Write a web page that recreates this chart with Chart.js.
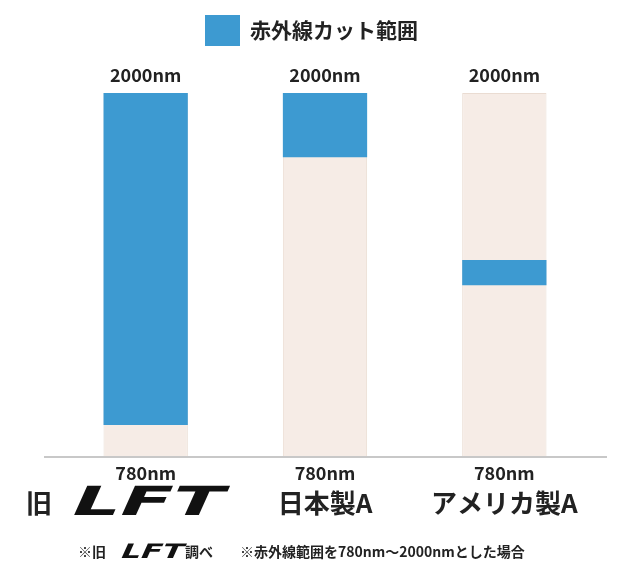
<!DOCTYPE html>
<html><head><meta charset="utf-8">
<script src="https://cdn.jsdelivr.net/npm/chart.js@4"></script>
<style>html,body{margin:0;background:#fff}#w{width:640px;height:576px}</style>
</head><body><div id="w"><canvas id="c"></canvas></div>
<script>
const categories = ["旧LFT", "日本製A", "アメリカ製A"];
const fullRange = [[780, 2000], [780, 2000], [780, 2000]];
const cutRange = [[887, 2000], [1785, 2000], [1356, 1440]];
const topLabel = "2000nm", bottomLabel = "780nm";
const legendText = "赤外線カット範囲";
const F = '"Noto Sans CJK JP", "Noto Sans", sans-serif';
const BLUE = '#3d9ad1', BEIGE = '#f6ece6';

function lft(ctx, x, y, h, w) {
  ctx.save();
  ctx.font = `900 ${h}px "DejaVu Sans", sans-serif`;
  const tw = ctx.measureText('LFT').width;
  ctx.translate(x, y);
  ctx.transform(w / tw, 0, -0.45, 1, 0, 0);
  ctx.textBaseline = 'middle'; ctx.textAlign = 'left';
  ctx.fillStyle = '#111';
  ctx.fillText('LFT', 0, 0);
  ctx.restore();
}

const deco = {
  id: 'deco',
  afterDraw(chart) {
    const ctx = chart.ctx, x = chart.scales.x;
    ctx.save();
    ctx.strokeStyle = '#c8c8c8'; ctx.lineWidth = 2;
    ctx.beginPath(); ctx.moveTo(44, 457); ctx.lineTo(607, 457); ctx.stroke();
    ctx.fillStyle = BLUE; ctx.fillRect(205, 15, 35, 31);
    ctx.fillStyle = '#222'; ctx.font = `bold 21px ${F}`;
    ctx.textBaseline = 'middle'; ctx.textAlign = 'left';
    ctx.fillText(legendText, 250, 30);
    ctx.textAlign = 'center';
    categories.forEach((c, i) => {
      const cx = x.getPixelForValue(i);
      ctx.fillStyle = '#222';
      ctx.font = `bold 18px ${F}`;
      ctx.fillText(topLabel, cx, 75);
      ctx.fillText(bottomLabel, cx, 473);
      ctx.font = `bold 26px ${F}`;
      if (i === 0) {
        ctx.textAlign = 'left';
        ctx.fillText('旧', 26, 503);
        lft(ctx, 72, 505, 40, 150);
        ctx.textAlign = 'center';
      } else {
        ctx.fillText(c, cx, 503);
      }
    });
    ctx.font = `bold 14px ${F}`; ctx.textAlign = 'left'; ctx.fillStyle = '#222';
    ctx.fillText('※旧', 78, 552);
    lft(ctx, 121, 553, 20, 62);
    ctx.fillText('調べ', 185, 552);
    ctx.fillText('※赤外線範囲を780nm～2000nmとした場合', 240, 552);
    ctx.restore();
  }
};

new Chart(document.getElementById('c'), {
  type: 'bar',
  data: {
    labels: categories,
    datasets: [
      { data: fullRange, order: 2, backgroundColor: BEIGE, borderColor: '#eadcd2', borderWidth: 1, borderSkipped: false, barPercentage: 0.47, categoryPercentage: 1 },
      { data: cutRange, order: 1, backgroundColor: BLUE, borderWidth: 0, barPercentage: 0.47, categoryPercentage: 1 }
    ]
  },
  options: {
    responsive: true, maintainAspectRatio: false, animation: false,
    layout: { padding: { left: 56, right: 46, top: 93, bottom: 119 } },
    plugins: { legend: { display: false }, tooltip: { enabled: false } },
    scales: {
      x: { stacked: true, display: false },
      y: { min: 780, max: 2000, display: false }
    }
  },
  plugins: [deco]
});
</script></body></html>
